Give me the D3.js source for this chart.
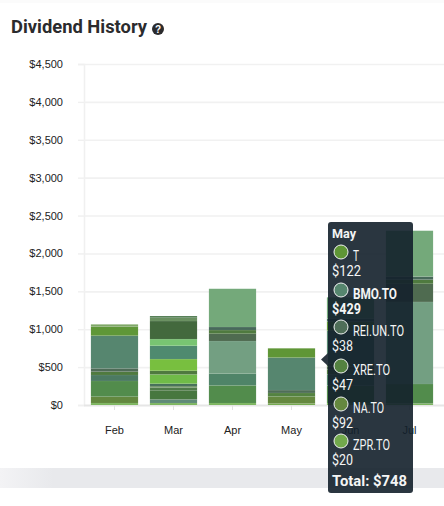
<!DOCTYPE html>
<html><head><meta charset="utf-8">
<script src="https://cdn.jsdelivr.net/npm/d3@7"></script>
<style>html,body{margin:0;padding:0;background:#fff;overflow:hidden}svg{display:block}</style>
</head><body><svg id="c" width="444" height="506"></svg>
<script>
const months=["Feb","Mar","Apr","May","Jun","Jul"];
const yTicks=[0,500,1000,1500,2000,2500,3000,3500,4000,4500];
const febValues=[26,84,207,79,44,44,431,119,30];
const febColors=["#7ab55c","#63883f","#528c4c","#4c7a62","#4f7a3f","#4f6b57","#56866f","#5f9738","#7fa868"];
const marValues=[26,48,114,44,18,31,123,48,154,176,88,238,44,22];
const marColors=["#7ab55c","#5f8a78","#47773f","#4f7a48","#6a9060","#47705a","#70bb48","#4f7a3f","#78bf3f","#4f8a6f","#78c472","#43693d","#6a9060","#4f7a4f"];
const aprValues=[26,233,154,431,97,48,40,505];
const aprColors=["#7ab55c","#528c4c","#4f8468","#739f82","#4f6b50","#4f7a3f","#47695a","#74a97a"];
const mayValues=[20,92,47,38,429,122];
const mayColors=["#72a94c","#65883f","#548241","#4f6e58","#56866f","#5f9636"];
const junValues=[26,230,150,60,45,40,430,120,40,280];
const junColors=["#7ab55c","#528c4c","#4f8468","#4f7a3f","#4f6b50","#4f7a48","#56866f","#5f9738","#47705a","#74a97a"];
const julValues=[20,257,1083,240,55,40,605];
const julColors=["#7ab55c","#528c4c","#739f82","#4f6b50","#4f7a3f","#47695a","#74a97a"];
const monthValues=[febValues,marValues,aprValues,mayValues,junValues,julValues];
const monthColors=[febColors,marColors,aprColors,mayColors,junColors,julColors];
const tipTitle="May";
const tipTickers=["T","BMO.TO","REI.UN.TO","XRE.TO","NA.TO","ZPR.TO"];
const tipValues=[122,429,38,47,92,20];
const tipColors=["#5f9636","#56866f","#4f6e58","#548241","#65883f","#72a94c"];
const tipTotal="Total: $748";

const svg=d3.select("#c");
const defs=svg.append("defs");
const g=defs.append("linearGradient").attr("id","fade");
g.append("stop").attr("offset","0").attr("stop-color","#f3f3f5");
g.append("stop").attr("offset","0.12").attr("stop-color","#e8e9ec");
g.append("stop").attr("offset","1").attr("stop-color","#e8e9ec");
svg.append("rect").attr("x",0).attr("y",0).attr("width",444).attr("height",3).attr("fill","#fbfbfb");
svg.append("rect").attr("x",0).attr("y",468).attr("width",444).attr("height",20).attr("fill","url(#fade)");

svg.append("text").attr("x",11).attr("y",33).attr("font-family","Roboto,Lato,sans-serif")
 .attr("font-weight",700).attr("font-size",19).attr("fill","#2b2b2d")
 .attr("textLength",136).attr("lengthAdjust","spacingAndGlyphs").text("Dividend History");
svg.append("circle").attr("cx",158).attr("cy",29).attr("r",6).attr("fill","#2b2b2d");
svg.append("text").attr("x",158).attr("y",32.5).attr("text-anchor","middle").attr("font-family","'Liberation Sans',sans-serif")
 .attr("font-weight",700).attr("font-size",10).attr("fill","#fff").text("?");

const y=d3.scaleLinear().domain([0,4500]).range([405,64]);
const x=d3.scaleBand().domain(months).range([85,439]).paddingInner(0.2).paddingOuter(0.1);

const yAxis=svg.append("g").attr("transform","translate(84,0)").call(d3.axisLeft(y).tickValues(yTicks).tickSize(6).tickFormat(d=>"$"+d3.format(",")(d)));
yAxis.select(".domain").attr("stroke","#f0f0f0").attr("stroke-width",1.6);
yAxis.selectAll("line").attr("stroke","#f0f0f0").attr("stroke-width",1.4);
yAxis.selectAll("text").attr("x",-21).attr("font-family","'Liberation Sans',sans-serif").attr("font-size",11).attr("fill","#222");
svg.append("g").attr("transform","translate(84,0)").call(d3.axisLeft(y).tickValues(yTicks).tickSize(-360).tickFormat(""))
 .call(s=>s.select(".domain").remove())
 .selectAll("line").attr("stroke",d=>d===0?"#e6e6e6":"#f1f1f1").attr("stroke-width",d=>d===0?2:1.6);

const xAxis=svg.append("g").attr("transform","translate(0,405)").call(d3.axisBottom(x).tickSize(5).tickPadding(16));
xAxis.select(".domain").remove();
xAxis.selectAll("line").attr("stroke","#e2e2e2");
xAxis.selectAll("text").attr("font-family","'Liberation Sans',sans-serif").attr("font-size",11).attr("fill","#222");

months.forEach((m,i)=>{
  const tops=d3.cumsum(monthValues[i]);
  svg.append("g").selectAll("rect").data(monthValues[i]).join("rect")
   .attr("x",x(m)).attr("width",x.bandwidth())
   .attr("y",(d,j)=>y(tops[j])).attr("height",d=>y(0)-y(d))
   .attr("fill",(d,j)=>monthColors[i][j])
   .attr("stroke","rgba(255,255,255,0.1)").attr("stroke-width",0.5);
});

const tip=svg.append("g");
const tipFill="rgba(19,32,43,0.9)";
tip.append("path").attr("d",d3.line()([[328,353],[321,359.5],[328,366]])).attr("fill","#2b3640");
tip.append("rect").attr("x",328).attr("y",222).attr("width",85).attr("height",271).attr("rx",3).attr("fill",tipFill);
const font="Roboto,'Noto Sans',sans-serif";
const label=(t,px,py,size,bold,len)=>tip.append("text").attr("x",px).attr("y",py).attr("font-family",font)
  .attr("font-size",size).attr("font-weight",bold?700:400).attr("fill","#f4f5f5")
  .attr("textLength",len).attr("lengthAdjust","spacingAndGlyphs").text(t);
label(tipTitle,332,238,13,true,24);
const rowY=[252,290,327,366,404,441];
const nameLen=[6,44,51,37,31,37];
const valLen=[29,29,21,21,21,21];
tipTickers.forEach((t,i)=>{
  const b=t==="BMO.TO";
  tip.append("circle").attr("cx",341).attr("cy",rowY[i]).attr("r",7).attr("fill",tipColors[i]).attr("stroke","#f0f2f2").attr("stroke-width",1);
  label(t,353,rowY[i]+9,14,b,nameLen[i]);
  label("$"+tipValues[i],332,rowY[i]+24,14,b,valLen[i]);
});
label(tipTotal,332,486,15,true,75);
</script></body></html>
